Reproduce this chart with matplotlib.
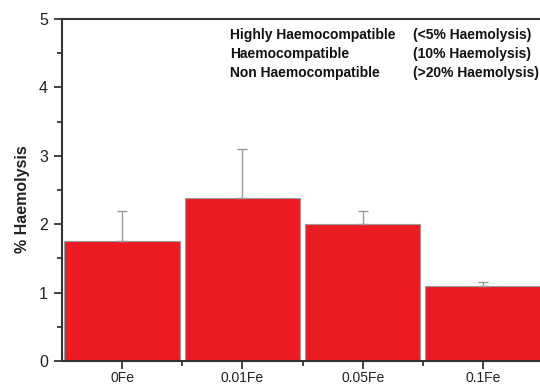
import matplotlib
matplotlib.use("Agg")
import matplotlib.pyplot as plt
from matplotlib.ticker import MultipleLocator, FixedLocator

plt.rcParams['font.family'] = ['Liberation Sans', 'DejaVu Sans']

samples = ["0Fe", "0.01Fe", "0.05Fe", "0.1Fe"]
haemolysis = [1.75, 2.38, 2.00, 1.09]
errors = [0.44, 0.72, 0.20, 0.065]

classes = ["Highly Haemocompatible", "Haemocompatible", "Non Haemocompatible"]
ranges = ["(<5% Haemolysis)", "(10% Haemolysis)", "(>20% Haemolysis)"]

fig = plt.figure(figsize=(5.4, 3.84), dpi=100)
# axes runs slightly off the right edge of the figure
ax = fig.add_axes([62 / 540, 23 / 384, 481 / 540, 342 / 384])

xs = range(len(samples))
ax.bar(xs, haemolysis, width=0.96, color="#ed1c24", edgecolor="#9a9a9a",
       linewidth=0.8, zorder=2)
ax.errorbar(xs, haemolysis, yerr=[[0] * len(errors), errors], fmt="none",
            ecolor="#9a9a9a", elinewidth=1.0, capsize=3.5, capthick=1.0, zorder=3)

ax.set_xlim(-0.5, 3.5)
ax.set_ylim(0, 5)
ax.set_xticks(list(xs))
ax.set_xticklabels(samples, fontsize=10)
ax.xaxis.set_minor_locator(FixedLocator([0.5, 1.5, 2.5]))
ax.yaxis.set_major_locator(MultipleLocator(1))
ax.yaxis.set_minor_locator(MultipleLocator(0.5))
ax.tick_params(axis="y", which="major", labelsize=11.5, length=6, width=1.2,
               direction="out", pad=4, colors="#222222")
ax.tick_params(axis="y", which="minor", length=3.5, width=1.2, direction="out",
               colors="#222222")
ax.tick_params(axis="x", which="major", length=6, width=1.2, direction="out",
               pad=1.5, colors="#222222")
ax.tick_params(axis="x", which="minor", length=3.5, width=1.2, direction="out",
               colors="#222222")

for side in ["left", "bottom", "top"]:
    ax.spines[side].set_linewidth(1.5)
    ax.spines[side].set_color("#333333")
ax.spines["right"].set_visible(False)

ax.set_ylabel("% Haemolysis", fontsize=11.5, fontweight="bold", color="#222222")
ax.yaxis.set_label_coords(-0.066, 0.474)

for i, (c, r) in enumerate(zip(classes, ranges)):
    y = 4.766 - i * 0.278
    ax.text(0.9, y, c, fontsize=10, fontweight="bold", va="center",
            color="#111111")
    ax.text(2.42, y, r, fontsize=10, fontweight="bold", va="center",
            color="#111111")

fig.savefig("out.png", dpi=100)
